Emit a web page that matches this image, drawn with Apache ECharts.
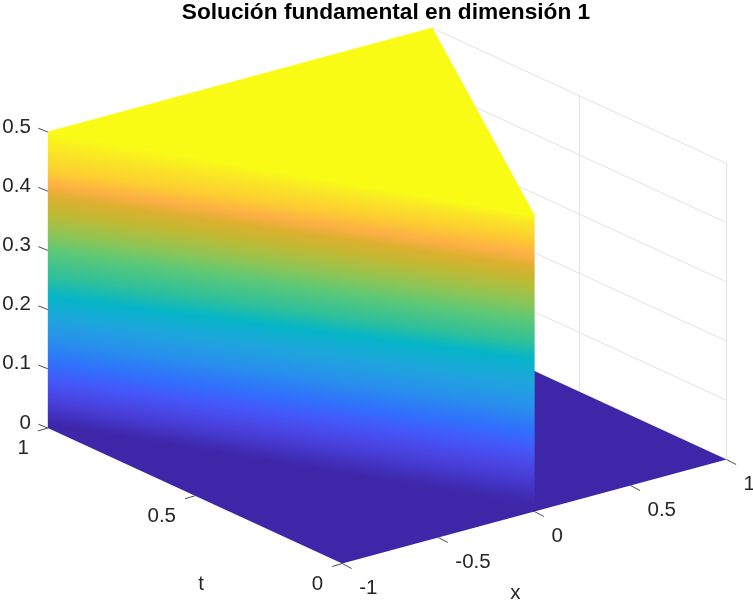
<!DOCTYPE html>
<html><head><meta charset="utf-8">
<style>html,body{margin:0;padding:0;background:#fff}#c{width:753px;height:600px}</style>
<script src="https://cdn.jsdelivr.net/npm/echarts@6/dist/echarts.min.js"></script>
</head><body><div id="c"></div>
<script>
const titleText = 'Solución fundamental en dimensión 1';
const xTicks = [-1, -0.5, 0, 0.5, 1];
const tTicks = [0, 0.5, 1];
const zTicks = [0, 0.1, 0.2, 0.3, 0.4, 0.5];
const tickLabels = v => String(v);
const floorPatch = [[-1, 0, 0], [1, 0, 0], [1, 1, 0], [-1, 1, 0]];
const topPatch = [[-1, 1, 0.5], [0, 0, 0.5], [1, 1, 0.5]];
const wallEnds = [[-1, 1], [0, 0]];
// height of each colour on the far-left and the near-right end of the wall
const wallLevelsLeft  = [0, 0.006, 0.024, 0.05, 0.082, 0.11, 0.15, 0.187, 0.222, 0.258, 0.3, 0.33, 0.365, 0.39, 0.411, 0.435, 0.472, 0.5];
const wallLevelsRight = [0, 0.01, 0.035, 0.068, 0.105, 0.135, 0.175, 0.215, 0.258, 0.285, 0.322, 0.355, 0.39, 0.412, 0.433, 0.462, 0.488, 0.5];
const wallColors = ['#3d26a8', '#3d26a8', '#4232c0', '#4a42e0', '#4458fa', '#3070fc', '#2890ec', '#1fa5dd', '#05b5c8', '#30c09a', '#5cc878', '#90c555', '#c2b832', '#dcb030', '#fdb045', '#fccf30', '#fae825', '#f9fb15'];
const wallStripCount = 180;
const floorColor = '#3d26a8';
const topColor = '#f9fb15';
const gridColor = '#e2e2e2';
const tickColor = '#4d4d4d';
const textColor = '#262626';

// orthographic view of the MATLAB box
const project = (x, t, z) => [342.2 + (x + 1) * 192.2 - t * 294.4, 563.5 - (x + 1) * 52 - t * 135.5 - z * 592];

const gridLines = [];
zTicks.forEach(z => gridLines.push([[1, 0, z], [1, 1, z]]));
tTicks.forEach(t => gridLines.push([[1, t, 0], [1, t, 0.5]]));

const poly = (api, pts, style) => ({
  type: 'polygon', silent: true,
  shape: { points: pts.map(p => api.coord(project(p[0], p[1], p[2]))) },
  style
});
// point along the wall: s=0 far-left end, s=1 near-right end
const wallPt = (api, s, z) => api.coord(project(
  wallEnds[0][0] + (wallEnds[1][0] - wallEnds[0][0]) * s,
  wallEnds[0][1] + (wallEnds[1][1] - wallEnds[0][1]) * s, z));

const wallStrip = i => api => {
  const s0 = i / wallStripCount;
  const s1 = Math.min(1, (i + 2) / wallStripCount); // overlaps the next strip, no seams
  const sm = (i + 0.5) / wallStripCount;
  const lo = wallPt(api, sm, 0), hi = wallPt(api, sm, 0.5);
  return {
    type: 'polygon', silent: true,
    shape: { points: [wallPt(api, s0, 0), wallPt(api, s1, 0), wallPt(api, s1, 0.5), wallPt(api, s0, 0.5)] },
    style: {
      fill: {
        type: 'linear', global: true, x: lo[0], y: lo[1], x2: hi[0], y2: hi[1],
        colorStops: wallColors.map((c, k) => ({
          offset: (wallLevelsLeft[k] + (wallLevelsRight[k] - wallLevelsLeft[k]) * sm) / 0.5,
          color: c
        }))
      }
    }
  };
};

const surface = [api => poly(api, floorPatch, { fill: floorColor })];
for (let i = 0; i < wallStripCount; i++) surface.push(wallStrip(i));
surface.push(api => poly(api, topPatch, { fill: topColor, stroke: topColor, lineWidth: 0.8, lineJoin: 'round' }));

const tickSegs = [];
const labels = [];
zTicks.forEach(z => {
  tickSegs.push({ p: [-1, 1, z], d: [-9.5, -3.8] });
  labels.push({ p: [-1, 1, z], text: tickLabels(z), off: [-17, -5], align: 'right' });
});
tTicks.forEach(t => {
  tickSegs.push({ p: [-1, t, 0], d: [-10, 3] });
  labels.push({ p: [-1, t, 0], text: tickLabels(t), off: [-19, 20.5], align: 'right' });
});
xTicks.forEach(x => {
  tickSegs.push({ p: [x, 0, 0], d: [9.5, 5] });
  labels.push({ p: [x, 0, 0], text: tickLabels(x), off: [17, 24.5], align: 'left' });
});
const axisNames = [
  { p: [0, 0, 0], text: 'x', off: [-19, 81.5], align: 'center' },
  { p: [-1, 0.5, 0], text: 't', off: [6, 88.5], align: 'center' }
];
const allLabels = labels.concat(axisNames);

const option = {
  animation: false,
  title: {
    text: titleText, left: 381, top: -4, textAlign: 'center',
    textStyle: { fontFamily: 'Liberation Sans', fontSize: 22.7, fontWeight: 'bold', color: '#000' }
  },
  grid: { left: 0, right: 0, top: 0, bottom: 0 },
  xAxis: { type: 'value', min: 0, max: 753, show: false },
  yAxis: { type: 'value', min: 0, max: 600, inverse: true, show: false },
  series: [
    {
      type: 'custom', silent: true, coordinateSystem: 'cartesian2d', z: 1,
      data: gridLines.map((_, i) => [i]),
      renderItem: (params, api) => {
        const s = gridLines[params.dataIndex];
        const a = api.coord(project(...s[0])), b = api.coord(project(...s[1]));
        return { type: 'line', silent: true, shape: { x1: a[0], y1: a[1], x2: b[0], y2: b[1] }, style: { stroke: gridColor, lineWidth: 1 } };
      }
    },
    {
      type: 'custom', silent: true, coordinateSystem: 'cartesian2d', z: 2,
      data: surface.map((_, i) => [i]),
      renderItem: (params, api) => surface[params.dataIndex](api)
    },
    {
      type: 'custom', silent: true, coordinateSystem: 'cartesian2d', z: 3,
      data: tickSegs.map((_, i) => [i]),
      renderItem: (params, api) => {
        const s = tickSegs[params.dataIndex];
        const a = api.coord(project(...s.p));
        return { type: 'line', silent: true, shape: { x1: a[0], y1: a[1], x2: a[0] + s.d[0], y2: a[1] + s.d[1] }, style: { stroke: tickColor, lineWidth: 1 } };
      }
    },
    {
      type: 'custom', silent: true, coordinateSystem: 'cartesian2d', z: 4,
      data: allLabels.map((_, i) => [i]),
      renderItem: (params, api) => {
        const s = allLabels[params.dataIndex];
        const a = api.coord(project(...s.p));
        return {
          type: 'text', silent: true,
          style: { x: a[0] + s.off[0], y: a[1] + s.off[1], text: s.text, fill: textColor, align: s.align, verticalAlign: 'middle', font: '20.5px "Liberation Sans"' }
        };
      }
    }
  ]
};
echarts.init(document.getElementById('c'), null, { renderer: 'canvas' }).setOption(option);
</script></body></html>
